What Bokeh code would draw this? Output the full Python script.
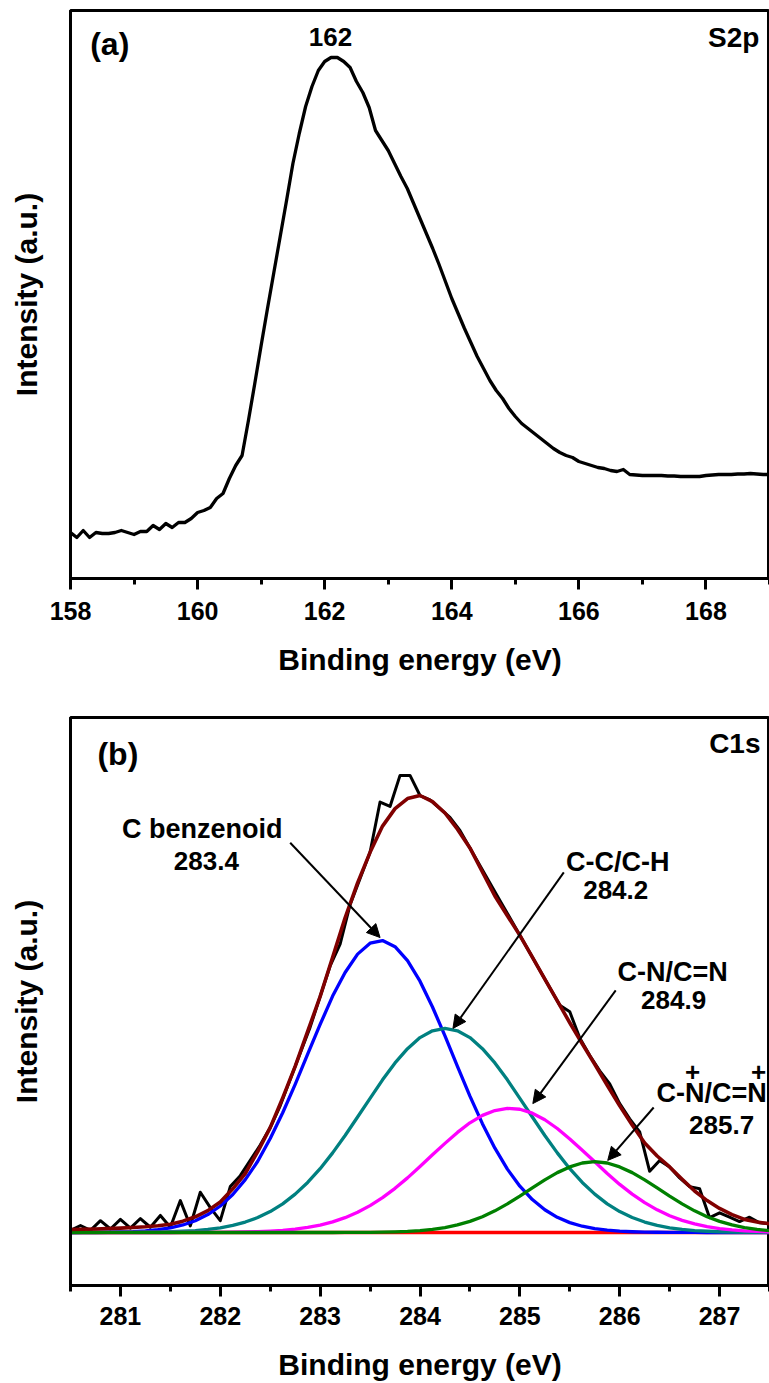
from bokeh.plotting import figure
from bokeh.layouts import column
from bokeh.models import (Range1d, SingleIntervalTicker, FixedTicker, Label,
                          Arrow, NormalHead)
from bokeh.embed import file_html
from bokeh.resources import INLINE

FONT = "Liberation Sans"

# ---------------- data: panel (a) S2p ----------------
s2p_start, s2p_step = 158.0, 0.1
s2p_intensity = [
    46, 41, 48, 41, 46, 45, 45, 46, 48, 46,            # 158.0-158.9
    44, 47, 47, 53, 49, 55, 51, 56, 56, 60,            # 159.0-159.9
    66, 68, 71, 80, 85, 100, 113, 123, 158, 195,       # 160.0-160.9
    233, 270, 306, 342, 378, 415, 445, 472, 492, 508,  # 161.0-161.9
    517, 521, 521, 517, 511, 497, 486, 471, 448, 438,  # 162.0-162.9
    428, 415, 402, 390, 375, 360, 345, 330, 314, 297,  # 163.0-163.9
    280, 265, 250, 236, 222, 210, 198, 188, 180, 170,  # 164.0-164.9
    162, 155, 150, 145, 140, 135, 130, 126, 123, 121,  # 165.0-165.9
    117, 115, 113, 111, 110, 108, 107, 109, 104, 103.5,  # 166.0-166.9
    103, 103, 103, 103, 102.5, 102.5, 102, 102, 102, 102,  # 167.0-167.9
    103, 103.5, 104, 104, 104, 104.5, 104.5, 105, 104.5, 104,  # 168.0-168.9
    104,                                                # 169.0
]
s2p_energy = [round(s2p_start + s2p_step * i, 2) for i in range(len(s2p_intensity))]

# ---------------- data: panel (b) C1s ----------------
c1s_start, c1s_step = 280.5, 0.1
c1s_measured = [
    0.5, 1.6, 0.5, 2.7, 0.8, 3.0, 1.0, 3.2, 1.2, 3.9,      # 280.5-281.4
    1.2, 7.3, 1.5, 9.2, 5.7, 2.7, 10.5, 13.0, 16.5, 20.0,  # 281.5-282.4
    24.0, 29.0, 35.0, 41.0, 47.0, 54.0, 61.0, 66.0, 75.0, 81.0,  # 282.5-283.4
    87.0, 98.5, 97.5, 104.6, 104.6, 100.0, 99.0, 97.0, 95.0, 92.0,  # 283.5-284.4
    88.0, 84.0, 80.0, 76.0, 72.0, 68.0, 64.0, 60.0, 56.0, 52.0,  # 284.5-285.4
    50.5, 44.5, 40.5, 37.0, 34.0, 29.5, 26.0, 23.0, 14.0, 16.5,  # 285.5-286.4
    15.0, 12.5, 10.5, 10.0, 3.4, 4.5, 3.5, 2.5, 3.5, 2.2,  # 286.5-287.4
    2.0,                                                    # 287.5
]
c1s_energy = [round(c1s_start + c1s_step * i, 3) for i in range(len(c1s_measured))]

# fitted components, read every 0.125 eV from 280.5 to 287.5
fit_start, fit_step = 280.5, 0.125
fit_benzenoid = [
    0.0, 0.02, 0.03, 0.06, 0.12, 0.21, 0.38, 0.64, 1.07, 1.72,
    2.7, 4.10, 6.06, 8.68, 12.1, 16.3, 21.5, 27.4, 33.9, 40.8,
    47.6, 54.1, 59.5, 63.7, 66.2, 66.8, 65.4, 62.2, 57.5, 51.6,
    45.0, 38.0, 31.2, 24.9, 19.3, 14.5, 10.6, 7.53, 5.2, 3.47,
    2.26, 1.43, 0.87, 0.52, 0.3, 0.17, 0.09, 0.05, 0.03, 0.01,
    0.01, 0.0, 0.0, 0.0, 0.0, 0.0, 0.0,
]
fit_cc_ch = [
    0.0, 0.0, 0.0, 0.01, 0.02, 0.03, 0.06, 0.10, 0.17, 0.28,
    0.45, 0.70, 1.08, 1.62, 2.39, 3.42, 4.79, 6.56, 8.77, 11.45,
    14.6, 18.22, 22.2, 26.43, 30.7, 34.93, 38.8, 42.07, 44.6, 46.16,
    46.7, 46.16, 44.6, 42.07, 38.8, 34.93, 30.7, 26.43, 22.2, 18.22,
    14.6, 11.45, 8.77, 6.56, 4.79, 3.42, 2.39, 1.62, 1.08, 0.70,
    0.45, 0.28, 0.17, 0.10, 0.06, 0.03, 0.02,
]
fit_cn = [
    0.0, 0.0, 0.0, 0.0, 0.0, 0.0, 0.0, 0.0, 0.0, 0.01,
    0.01, 0.02, 0.04, 0.07, 0.12, 0.20, 0.32, 0.50, 0.77, 1.15,
    1.69, 2.42, 3.39, 4.62, 6.14, 7.97, 10.1, 12.5, 15.1, 17.8,
    20.4, 22.9, 25.1, 26.8, 27.9, 28.4, 28.2, 27.3, 25.8, 23.8,
    21.4, 18.8, 16.2, 13.5, 11.0, 8.79, 6.84, 5.19, 3.84, 2.78,
    1.96, 1.35, 0.91, 0.59, 0.38, 0.24, 0.14,
]
fit_cn_plus = [
    0.0, 0.0, 0.0, 0.0, 0.0, 0.0, 0.0, 0.0, 0.0, 0.0,
    0.0, 0.0, 0.0, 0.0, 0.0, 0.0, 0.0, 0.0, 0.0, 0.0,
    0.0, 0.0, 0.01, 0.02, 0.04, 0.08, 0.14, 0.25, 0.43, 0.71,
    1.13, 1.73, 2.55, 3.62, 4.96, 6.55, 8.33, 10.2, 12.05, 13.7,
    15.0, 15.9, 16.2, 15.9, 15.0, 13.7, 12.05, 10.2, 8.33, 6.55,
    4.96, 3.62, 2.55, 1.73, 1.13, 0.71, 0.43,
]
fit_envelope = [
    0.7, 0.75, 0.8, 0.9, 1.0, 1.15, 1.3, 1.55, 1.9, 2.6,
    3.6, 5.0, 7.0, 10.0, 13.5, 18.5, 24.0, 30.8, 38.0, 46.0,
    54.0, 63.0, 72.0, 80.0, 87.0, 93.0, 97.0, 99.3, 100.0, 98.6,
    96.0, 92.3, 88.0, 82.5, 77.0, 72.5, 68.0, 63.0, 58.0, 53.0,
    48.0, 43.2, 38.5, 33.7, 29.0, 24.6, 20.5, 17.5, 15.0, 12.2,
    9.5, 7.3, 5.5, 4.1, 3.0, 2.4, 2.0,
]
fit_background = [0.0] * len(fit_envelope)
fit_energy = [round(fit_start + fit_step * i, 3) for i in range(len(fit_envelope))]

peak_names = ["C benzenoid", "C-C/C-H", "C-N/C=N", "C-N/C=N"]
peak_values = ["283.4", "284.2", "284.9", "285.7"]


def style_axes(p, ticker, tick_standoff, label_standoff):
    p.outline_line_color = "black"
    p.outline_line_width = 3
    p.xgrid.visible = False
    p.ygrid.visible = False
    p.background_fill_color = "white"
    p.border_fill_color = "white"
    xa = p.xaxis[0]
    xa.ticker = ticker
    xa.axis_line_width = 3
    xa.major_tick_line_width = 3
    xa.minor_tick_line_width = 3
    xa.major_tick_out = 11
    xa.major_tick_in = 0
    xa.minor_tick_out = 6
    xa.minor_tick_in = 0
    xa.major_label_text_font = FONT
    xa.major_label_text_font_style = "bold"
    xa.major_label_text_font_size = "25px"
    xa.major_label_text_color = "black"
    xa.major_label_standoff = tick_standoff
    xa.axis_label = "Binding energy (eV)"
    xa.axis_label_text_font = FONT
    xa.axis_label_text_font_style = "bold"
    xa.axis_label_text_font_size = "30px"
    xa.axis_label_text_color = "black"
    xa.axis_label_standoff = label_standoff
    ya = p.yaxis[0]
    ya.ticker = FixedTicker(ticks=[])
    ya.axis_line_width = 3
    ya.major_tick_line_color = None
    ya.minor_tick_line_color = None
    ya.major_label_text_font_size = "0px"
    ya.major_label_standoff = 0
    ya.axis_label = "Intensity (a.u.)"
    ya.axis_label_text_font = FONT
    ya.axis_label_text_font_style = "bold"
    ya.axis_label_text_font_size = "30px"
    ya.axis_label_text_color = "black"
    ya.axis_label_standoff = 28


def add_label(p, x, y, text, size="26px", align="center"):
    p.add_layout(Label(x=x, y=y, text=text, text_font=FONT, text_font_style="bold",
                       text_font_size=size, text_align=align, text_baseline="middle",
                       text_color="black"))


# ---------------- panel (a) ----------------
pa = figure(width=769, height=683, x_range=Range1d(158, 169), y_range=Range1d(0, 568),
            output_backend="svg", toolbar_location=None,
            min_border_left=70, min_border_right=0, min_border_top=10, min_border_bottom=105)
style_axes(pa, SingleIntervalTicker(interval=2, num_minor_ticks=2), 12, 20)
pa.line(s2p_energy, s2p_intensity, line_color="black", line_width=3.3, line_join="round")
add_label(pa, 158.31, 535, "(a)", size="32px", align="left")
add_label(pa, 162.09, 542, "162", size="26px")
add_label(pa, 168.84, 541, "S2p", size="28px", align="right")

# ---------------- panel (b) ----------------
pb = figure(width=769, height=700, x_range=Range1d(280.5, 287.5), y_range=Range1d(-12.13, 117.85),
            output_backend="svg", toolbar_location=None,
            min_border_left=70, min_border_right=0, min_border_top=34, min_border_bottom=98)
style_axes(pb, SingleIntervalTicker(interval=1, num_minor_ticks=2), 10, 20)
pb.line(c1s_energy, c1s_measured, line_color="black", line_width=3, line_join="round")
pb.line(fit_energy, fit_background, line_color="#FF0000", line_width=3.3)
pb.line(fit_energy, fit_benzenoid, line_color="#0000FF", line_width=3.3, line_join="round")
pb.line(fit_energy, fit_cc_ch, line_color="#008080", line_width=3.3, line_join="round")
pb.line(fit_energy, fit_cn, line_color="#FF00FF", line_width=3.3, line_join="round")
pb.line(fit_energy, fit_cn_plus, line_color="#008000", line_width=3.3, line_join="round")
pb.line(fit_energy, fit_envelope, line_color="#800000", line_width=3.6, line_join="round")

add_label(pb, 280.77, 109.6, "(b)", size="32px", align="left")
add_label(pb, 287.41, 111.9, "C1s", size="28px", align="right")

# annotation text positions (layout)
name_pos = [(281.82, 92.4), (285.98, 84.7), (286.53, 59.5), (286.92, 32.0)]
value_pos = [(281.86, 85.1), (285.96, 78.3), (286.54, 53.3), (287.02, 24.7)]
for (nx, ny), name in zip(name_pos, peak_names):
    add_label(pb, nx, ny, name, size="27px")
for (vx, vy), val in zip(value_pos, peak_values):
    add_label(pb, vx, vy, val, size="26px")
for px_ in (286.73, 287.39):
    add_label(pb, px_, 36.8, "+", size="26px")

arrows = [((282.70, 89.2), (283.60, 67.5)),
          ((285.44, 82.4), (284.33, 46.7)),
          ((285.96, 55.4), (285.13, 29.5)),
          ((286.34, 28.6), (285.88, 16.5))]
for (xs, ys), (xe, ye) in arrows:
    pb.add_layout(Arrow(end=NormalHead(size=13, fill_color="black", line_color="black"),
                        x_start=xs, y_start=ys, x_end=xe, y_end=ye,
                        line_color="black", line_width=2))

layout = column(pa, pb, spacing=0)
open("out.html", "w").write(file_html(layout, INLINE))
